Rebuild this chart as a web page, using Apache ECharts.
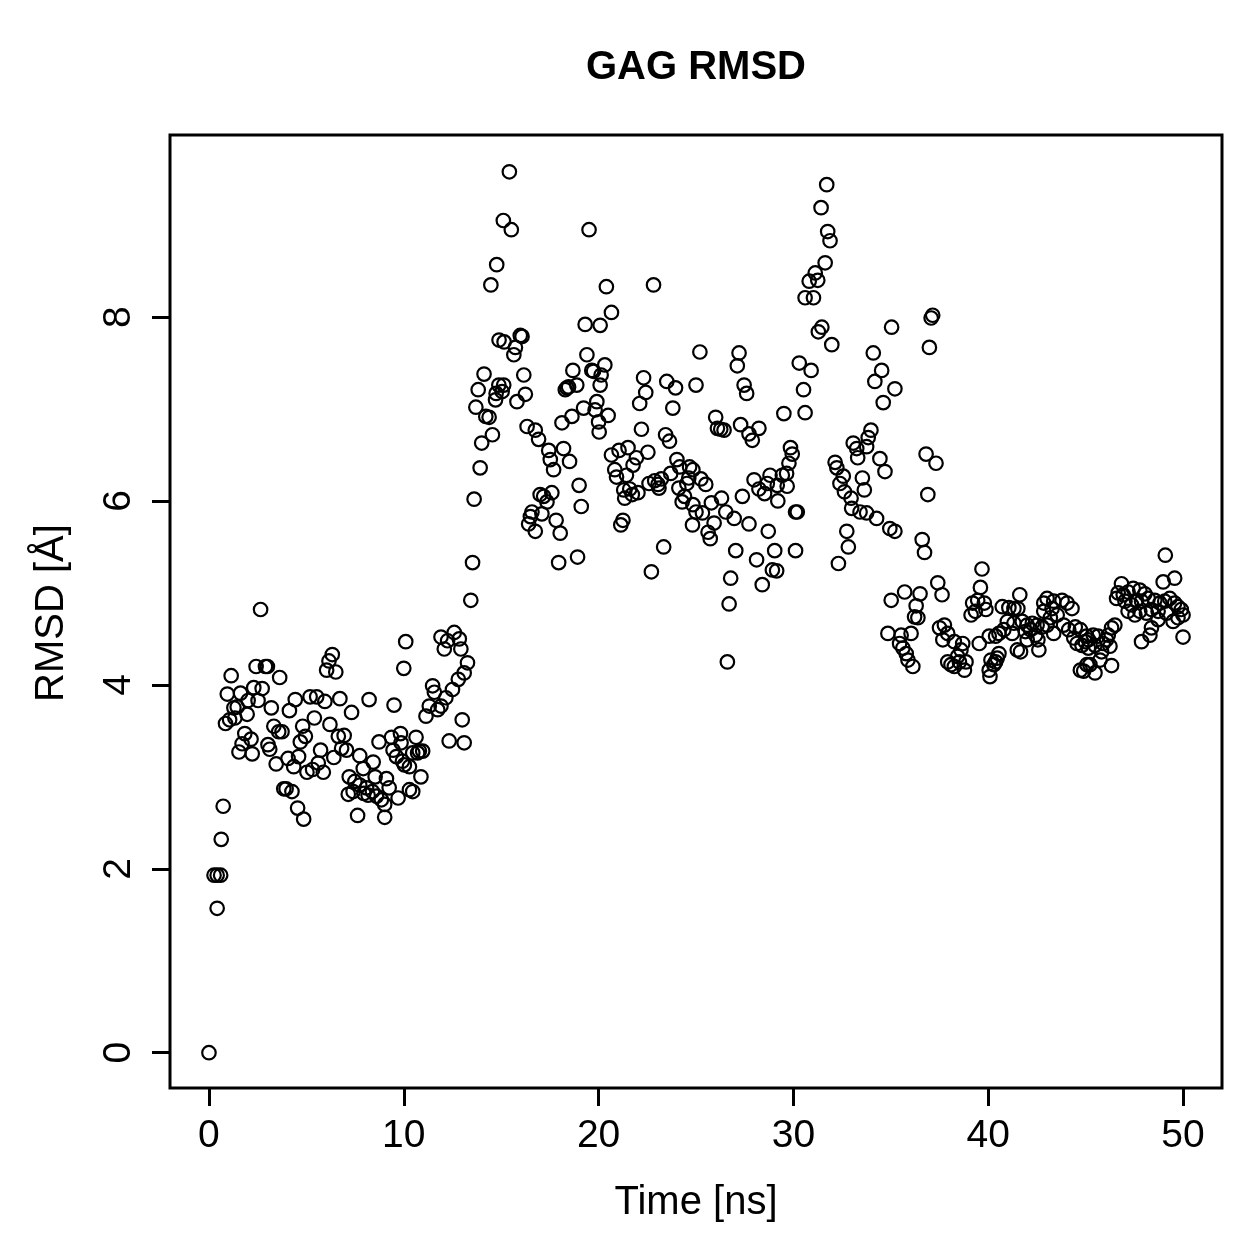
<!DOCTYPE html>
<html>
<head>
<meta charset="utf-8">
<script src="https://cdn.jsdelivr.net/npm/echarts@6/dist/echarts.min.js"></script>
<style>html,body{margin:0;padding:0;background:#fff}#main{width:1259px;height:1259px}</style>
</head>
<body>
<div id="main"></div>
<script>
const xTicks = [0, 10, 20, 30, 40, 50];
const yTicks = [0, 2, 4, 6, 8];

// [time ns, RMSD A]
const rmsd0to5 = [
  [0,0],[0.26,1.93],[0.42,1.93],[0.6,1.93],[0.42,1.57],[0.63,2.32],[0.73,2.68],
  [2.65,4.82],[2.42,4.20],[2.9,4.20],[3.0,4.20],[1.14,4.10],[3.63,4.08],[2.3,3.97],[2.73,3.96],
  [0.94,3.90],[1.62,3.91],[2.01,3.83],[2.52,3.83],[4.43,3.84],[1.28,3.75],[1.45,3.76],[3.2,3.75],
  [4.13,3.72],[1.96,3.68],[0.85,3.58],[1.06,3.62],[1.33,3.64],[4.81,3.55],[3.33,3.55],[3.58,3.49],
  [3.75,3.49],[1.84,3.47],[2.16,3.41],[4.69,3.38],[4.95,3.44],[1.7,3.36],[3.03,3.35],[3.12,3.30],
  [1.54,3.27],[2.22,3.25],[3.45,3.14],[4.06,3.20],[4.35,3.11],[4.6,3.22],[5.03,3.05],[3.84,2.87],
  [3.96,2.87],[4.26,2.84],[4.55,2.66],[4.86,2.54]
];
const rmsd5to10 = [
  [6.33,4.33],[6.16,4.26],[6.04,4.16],[6.51,4.14],[5.19,3.87],[5.53,3.87],[5.95,3.82],[6.72,3.85],
  [8.22,3.84],[9.5,3.78],[7.32,3.70],[5.41,3.64],[6.21,3.57],[6.64,3.44],[6.94,3.45],[9.83,3.47],
  [9.37,3.43],[8.73,3.38],[6.81,3.31],[7.06,3.29],[9.45,3.29],[9.62,3.22],[9.93,3.17],[5.73,3.29],
  [7.74,3.23],[6.41,3.21],[8.43,3.16],[7.92,3.09],[5.61,3.15],[5.32,3.08],[5.87,3.05],[7.2,3.00],
  [8.53,3.00],[9.11,2.98],[7.49,2.95],[7.74,2.91],[8.09,2.88],[8.39,2.84],[8.6,2.79],[8.85,2.75],
  [9.02,2.70],[7.15,2.81],[7.4,2.84],[7.95,2.82],[8.17,2.80],[9.25,2.88],[9.71,2.77],[7.63,2.58],
  [9.02,2.56]
];
const rmsd10to15 = [
  [10.1,4.47],[10.0,4.18],[11.91,4.52],[12.25,4.48],[12.59,4.57],[12.85,4.50],[12.93,4.39],[12.08,4.39],
  [13.27,4.24],[13.1,4.13],[12.8,4.06],[12.5,3.95],[12.16,3.86],[11.48,3.99],[11.57,3.92],[11.91,3.77],
  [11.74,3.73],[11.31,3.77],[11.14,3.66],[13.0,3.62],[12.33,3.39],[13.1,3.37],[10.63,3.43],[10.8,3.28],
  [10.97,3.28],[10.71,3.26],[10.46,3.26],[9.86,3.37],[10.03,3.13],[10.29,3.11],[10.88,3.00],[10.29,2.86],
  [10.46,2.84],
  [13.44,4.92],[13.53,5.33],[13.61,6.02],[13.92,6.36],[14.0,6.63],[14.55,6.72],[14.21,6.92],[14.38,6.91],
  [13.7,7.02],[13.82,7.21],[14.12,7.38],[14.89,7.75],[15.15,7.73],[14.47,8.35],[14.77,8.57],[15.11,9.05],
  [15.13,7.26],[14.88,7.26],[15.05,7.19],[14.74,7.17],[14.71,7.10]
];
const rmsd15to20 = [
  [15.42,9.58],[15.52,8.95],[19.51,8.95],[19.31,7.92],[20.08,7.91],[15.98,7.80],[16.07,7.79],[15.73,7.67],
  [15.65,7.59],[19.4,7.59],[19.65,7.42],[19.74,7.41],[18.68,7.42],[20.13,7.37],[16.16,7.37],[16.24,7.16],
  [15.81,7.08],[18.88,7.26],[18.46,7.24],[18.29,7.21],[18.37,7.23],[20.08,7.26],[19.91,7.08],[19.82,6.99],
  [20.0,6.86],[19.23,7.01],[18.63,6.92],[18.12,6.85],[16.33,6.81],[16.75,6.77],[16.92,6.67],[17.44,6.55],
  [17.52,6.45],[17.69,6.34],[18.2,6.57],[18.51,6.43],[19.0,6.17],[19.11,5.94],[17.0,6.07],[17.18,6.05],
  [17.6,6.09],[17.35,5.99],[16.58,5.88],[16.5,5.83],[17.09,5.86],[16.41,5.75],[16.75,5.67],[17.82,5.79],
  [18.03,5.65],[17.95,5.33],[18.92,5.39]
];
const rmsd20to25 = [
  [20.4,8.33],[22.82,8.35],[20.66,8.05],[20.32,7.48],[25.2,7.62],[22.31,7.34],[22.42,7.18],[22.11,7.06],
  [23.5,7.30],[23.95,7.23],[25.0,7.26],[23.81,7.01],[22.2,6.78],[23.44,6.72],[23.64,6.65],[20.49,6.93],
  [20.03,6.75],[20.66,6.50],[21.05,6.55],[21.51,6.58],[21.94,6.47],[22.53,6.53],[20.83,6.34],[20.92,6.26],
  [21.43,6.28],[21.77,6.39],[24.02,6.45],[24.16,6.37],[24.67,6.37],[24.84,6.34],[24.63,6.25],[24.53,6.19],
  [23.7,6.30],[22.59,6.19],[22.88,6.22],[23.05,6.18],[23.22,6.24],[21.6,6.13],[22.02,6.09],[21.73,6.07],
  [21.29,6.12],[21.34,6.03],[23.1,6.14],[24.12,6.14],[24.41,6.05],[24.29,5.99],[24.84,5.96],[25.0,5.88],
  [21.25,5.79],[21.14,5.74],[23.34,5.50],[22.71,5.23]
];
const rmsd25to30 = [
  [27.21,7.61],[27.12,7.47],[27.47,7.26],[27.6,7.17],[30.3,7.50],[29.51,6.95],[26.01,6.91],[26.1,6.79],
  [26.27,6.78],[26.44,6.77],[27.29,6.83],[27.72,6.73],[27.89,6.66],[28.23,6.79],[29.85,6.58],[29.94,6.51],
  [29.77,6.41],[25.25,6.24],[25.5,6.18],[27.98,6.23],[28.23,6.13],[28.52,6.08],[28.8,6.28],[28.66,6.19],
  [29.17,6.17],[29.43,6.28],[29.65,6.30],[29.68,6.16],[29.2,6.0],[27.38,6.05],[25.33,5.87],[25.79,5.98],
  [26.31,6.03],[26.53,5.88],[26.96,5.81],[30.11,5.88],[30.2,5.88],[24.82,5.74],[25.93,5.76],[25.62,5.66],
  [25.73,5.59],[27.72,5.75],[28.71,5.67],[27.04,5.46],[28.11,5.36],[29.04,5.46],[30.11,5.46],[28.92,5.25],
  [29.14,5.24],[26.78,5.16],[28.4,5.09],[26.7,4.88],[26.61,4.25]
];
const rmsd30to35 = [
  [31.71,9.44],[31.42,9.19],[31.76,8.93],[31.88,8.83],[31.63,8.59],[31.12,8.48],[30.81,8.39],[31.25,8.40],
  [30.6,8.21],[31.03,8.21],[31.46,7.89],[31.28,7.84],[31.97,7.70],[35.04,7.89],[34.1,7.61],[34.53,7.42],
  [34.18,7.30],[34.61,7.07],[35.21,7.22],[30.91,7.42],[30.52,7.21],[30.6,6.96],[33.98,6.77],[33.84,6.69],
  [33.07,6.63],[33.25,6.57],[33.76,6.59],[33.3,6.47],[34.44,6.46],[34.7,6.32],[32.14,6.42],[32.23,6.36],
  [32.56,6.27],[32.39,6.19],[32.62,6.10],[33.54,6.25],[33.64,6.12],[32.96,6.03],[32.99,5.92],[33.42,5.88],
  [33.76,5.87],[34.27,5.81],[34.95,5.70],[35.21,5.67],[32.74,5.67],[32.82,5.50],[32.31,5.32]
];
const rmsd35to40 = [
  [37.15,8.02],[37.07,7.99],[36.98,7.67],[36.81,6.51],[37.32,6.41],[36.9,6.07],[36.61,5.58],[36.73,5.44],
  [39.68,5.26],[39.6,5.06],[37.41,5.11],[37.63,4.98],[35.71,5.01],[35.02,4.92],[36.5,4.99],[36.3,4.86],
  [36.22,4.74],[36.39,4.73],[39.2,4.89],[39.46,4.92],[39.8,4.89],[39.12,4.76],[39.34,4.80],[39.88,4.82],
  [34.85,4.56],[35.53,4.54],[36.04,4.56],[35.45,4.45],[35.62,4.40],[35.79,4.34],[35.88,4.27],[36.13,4.20],
  [37.5,4.62],[37.75,4.65],[37.92,4.56],[37.67,4.49],[38.26,4.47],[38.69,4.45],[38.6,4.38],[38.43,4.31],
  [40.05,4.53],[39.54,4.45],[37.92,4.25],[38.09,4.22],[38.26,4.20],[38.52,4.25],[38.86,4.25],[38.78,4.16],
  [40.14,4.27],[40.05,4.16],[40.09,4.09]
];
const rmsd40to45 = [
  [41.62,4.98],[40.72,4.85],[41.06,4.84],[41.32,4.83],[41.52,4.83],[43.02,4.94],[43.36,4.91],[43.79,4.92],
  [44.05,4.89],[44.3,4.83],[42.85,4.89],[43.28,4.83],[42.85,4.80],[43.54,4.76],[43.19,4.73],[40.98,4.69],
  [41.32,4.67],[41.75,4.69],[42.0,4.65],[42.26,4.67],[42.51,4.65],[42.77,4.63],[43.02,4.65],[40.8,4.60],
  [41.23,4.56],[41.91,4.58],[42.17,4.60],[42.43,4.54],[43.36,4.56],[43.87,4.65],[44.13,4.60],[44.47,4.63],
  [44.73,4.60],[40.38,4.53],[40.55,4.56],[42.0,4.49],[42.55,4.49],[44.39,4.51],[44.56,4.45],[44.81,4.43],
  [44.98,4.47],[45.15,4.49],[41.49,4.38],[41.66,4.36],[42.6,4.38],[40.55,4.34],[40.46,4.29],[40.38,4.25],
  [40.29,4.22],[44.73,4.16],[44.9,4.15],[45.07,4.22]
];
const rmsd45to50 = [
  [49.09,5.41],[48.98,5.12],[49.57,5.16],[46.84,5.10],[46.67,5.00],[46.93,4.98],[47.18,5.01],[47.44,5.05],
  [47.78,5.03],[48.04,4.99],[46.59,4.94],[47.02,4.91],[47.36,4.87],[47.61,4.92],[47.87,4.91],[48.21,4.94],
  [48.55,4.92],[48.81,4.89],[49.06,4.91],[49.32,4.94],[49.57,4.89],[49.74,4.85],[49.91,4.82],[50.0,4.76],
  [47.18,4.80],[47.53,4.76],[47.78,4.80],[48.12,4.78],[48.38,4.82],[48.72,4.80],[49.15,4.78],[49.74,4.73],
  [48.72,4.71],[49.49,4.69],[48.38,4.62],[48.3,4.54],[47.87,4.47],[50.0,4.52],[46.5,4.65],[46.33,4.62],
  [46.16,4.54],[46.07,4.49],[45.9,4.45],[45.64,4.53],[45.39,4.54],[45.05,4.53],[45.14,4.40],[45.48,4.43],
  [45.82,4.36],[46.25,4.42],[45.22,4.22],[45.48,4.13],[45.74,4.27],[46.33,4.21]
];

const allPoints = [].concat(rmsd0to5, rmsd5to10, rmsd10to15, rmsd15to20, rmsd20to25,
  rmsd25to30, rmsd30to35, rmsd35to40, rmsd40to45, rmsd45to50);

const font = '"Liberation Sans", Arial, Helvetica, sans-serif';
const chartDom = document.getElementById('main');
const myChart = echarts.init(chartDom);

let option = {
  animation: false,
  backgroundColor: '#fff',
  grid: {
    left: 170, right: 37, top: 135, bottom: 171,
    show: true, borderColor: '#000', borderWidth: 3, backgroundColor: 'transparent'
  },
  xAxis: {
    type: 'value', min: -2, max: 52,
    axisLine: { show: false, onZero: false },
    splitLine: { show: false },
    axisTick: { show: true, length: 18, customValues: xTicks, lineStyle: { color: '#000', width: 3 } },
    axisLabel: { customValues: xTicks, color: '#000', fontSize: 39, fontFamily: font, margin: 29 }
  },
  yAxis: {
    type: 'value', min: -0.384, max: 9.98,
    axisLine: { show: false, onZero: false },
    splitLine: { show: false },
    axisTick: { show: true, length: 18, customValues: yTicks, lineStyle: { color: '#000', width: 3 } },
    axisLabel: { customValues: yTicks, color: '#000', fontSize: 39, fontFamily: font, margin: 31, rotate: 90 }
  },
  graphic: [
    { type: 'text', x: 696, y: 68, style: { text: 'GAG RMSD', font: 'bold 40px ' + font, fill: '#000',
      textAlign: 'center', textVerticalAlign: 'middle', align: 'center', verticalAlign: 'middle' } },
    { type: 'text', x: 696, y: 1203, style: { text: 'Time [ns]', font: '40px ' + font, fill: '#000',
      textAlign: 'center', textVerticalAlign: 'middle', align: 'center', verticalAlign: 'middle' } },
    { type: 'text', x: 52, y: 613, rotation: Math.PI / 2, style: { text: 'RMSD [Å]', font: '40px ' + font, fill: '#000',
      textAlign: 'center', textVerticalAlign: 'middle', align: 'center', verticalAlign: 'middle' } }
  ],
  series: [{
    type: 'scatter',
    data: allPoints,
    symbol: 'circle',
    symbolSize: 13.5,
    itemStyle: { color: 'rgba(0,0,0,0)', borderColor: '#000', borderWidth: 2.2, opacity: 1 },
    emphasis: { disabled: true }
  }]
};
myChart.setOption(option);
</script>
</body>
</html>
